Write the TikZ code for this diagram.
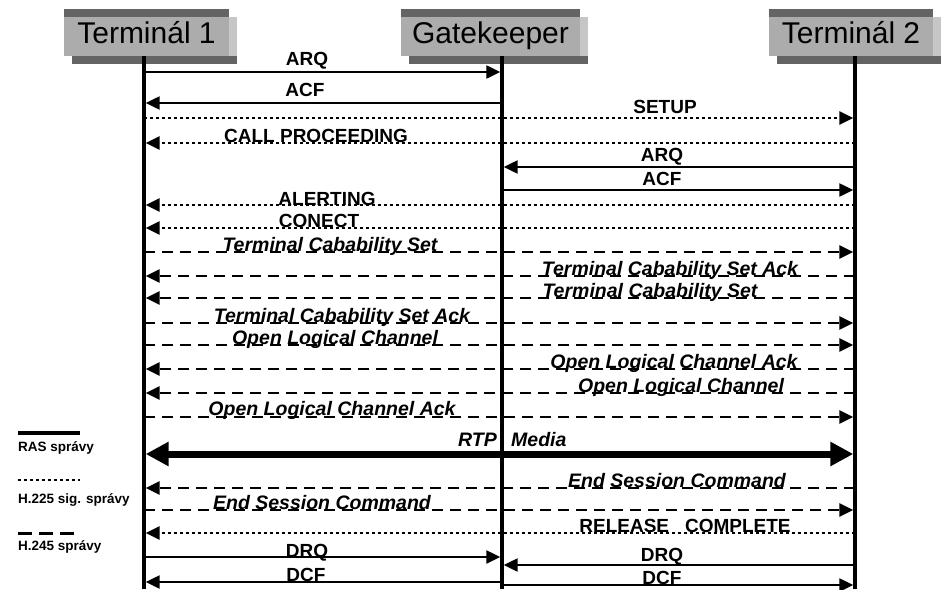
\documentclass[tikz,border=0pt]{standalone}
\usepackage{fontspec}
\setmainfont{Liberation Sans}
\usetikzlibrary{arrows.meta}
\definecolor{hdrmid}{RGB}{172,172,172}
\definecolor{hdrlight}{RGB}{198,198,198}
\definecolor{hdrdark}{RGB}{100,100,100}
\newcommand\hdrbox[4]{%
  \fill[hdrlight] (#2+8,17) rectangle (#3+8,64);
  \fill[hdrmid] (#2,9) rectangle (#3,56);
  \fill[hdrdark] (#2,9) rectangle (#3,17);
  \fill[hdrdark] (#2+8,56) rectangle (#3+8,64);
  \node[hdr] (#1) at ({(#2+#3)/2},43) {#4};}
\newcommand\msg[4]{\draw[#1] (#3 |- 0,#2) -- (#4 |- 0,#2);}
\begin{document}
\begin{tikzpicture}[x=1pt,y=-1pt,
  life/.style={line width=3.5pt},
  ras/.style={line width=2.3pt},
  sig/.style={line width=2.8pt, dash pattern=on 2.8pt off 3.2pt},
  hcf/.style={line width=2.5pt, dash pattern=on 11pt off 7pt},
  tip/.style={-{Triangle[length=14pt,width=13pt]}, shorten >=1.7pt},
  rtp/.style={line width=7pt, {Triangle[length=23pt,width=23pt]}-{Triangle[length=23pt,width=23pt]}, shorten >=1.7pt, shorten <=1.7pt},
  lbl/.style={font=\fontsize{19}{19}\selectfont\bfseries, anchor=base, inner sep=0pt},
  ilbl/.style={font=\fontsize{19.5}{19.5}\selectfont\bfseries\itshape, anchor=base, inner sep=0pt},
  hdr/.style={font=\fontsize{30}{30}\selectfont, anchor=base, inner sep=0pt},
  leg/.style={font=\fontsize{13.5}{13.5}\selectfont\bfseries, anchor=base west, inner sep=0pt}]
\useasboundingbox (0,0) rectangle (944,589);
\fill[white] (0,0) rectangle (944,589);
% headers
\hdrbox{t1}{64}{229}{Terminál 1}
\hdrbox{gk}{401}{580}{Gatekeeper}
\hdrbox{t2}{769}{933}{Terminál 2}
% lifelines
\coordinate (L1) at (144,56);
\coordinate (LG) at (502,56);
\coordinate (L2) at (855,56);
\coordinate (B1) at (144,589);
\coordinate (BG) at (502,589);
\coordinate (B2) at (855,589);
\draw[life] (L1) -- (B1);
\draw[life] (LG) -- (BG);
\draw[life] (L2) -- (B2);
% messages
\msg{ras,tip}{72}{L1}{LG}
\node[lbl] (m1) at (307,65) {ARQ};
\msg{ras,tip}{103}{LG}{L1}
\node[lbl] (m2) at (305,96) {ACF};
\msg{sig,tip}{118}{L1}{L2}
\node[lbl] (m3) at (665,113) {SETUP};
\msg{sig,tip}{143}{L2}{L1}
\node[lbl] (m4) at (316,142) {CALL PROCEEDING};
\msg{ras,tip}{167}{L2}{LG}
\node[lbl] (m5) at (662,161) {ARQ};
\msg{ras,tip}{190}{LG}{L2}
\node[lbl] (m6) at (662,185) {ACF};
\msg{sig,tip}{205}{L2}{L1}
\node[lbl] (m7) at (327,205) {ALERTING};
\msg{sig,tip}{228}{L2}{L1}
\node[lbl] (m8) at (319,227) {CONECT};
\msg{hcf,tip}{252}{L1}{L2}
\node[ilbl] (m9) at (330,251) {Terminal Cabability Set};
\msg{hcf,tip}{276}{L2}{L1}
\node[ilbl] (m10) at (670,275) {Terminal Cabability Set Ack};
\msg{hcf,tip}{298}{L2}{L1}
\node[ilbl] (m11) at (650,297) {Terminal Cabability Set};
\msg{hcf,tip}{323}{L1}{L2}
\node[ilbl] (m12) at (342,322) {Terminal Cabability Set Ack};
\msg{hcf,tip}{345}{L1}{L2}
\node[ilbl] (m13) at (335,344) {Open Logical Channel};
\msg{hcf,tip}{369}{L2}{L1}
\node[ilbl] (m14) at (674,368) {Open Logical Channel Ack};
\msg{hcf,tip}{393}{L2}{L1}
\node[ilbl] (m15) at (681,392) {Open Logical Channel};
\msg{hcf,tip}{417}{L1}{L2}
\node[ilbl] (m16) at (332,415) {Open Logical Channel Ack};
\draw[rtp] (L1 |- 0,454) -- (L2 |- 0,454);
\node[ilbl, anchor=base east] (m17) at (497,446) {RTP};
\node[ilbl, anchor=base west] (m18) at (511,446) {Media};
\msg{hcf,tip}{488}{L2}{L1}
\node[ilbl] (m19) at (677,487) {End Session Command};
\msg{hcf,tip}{510}{L1}{L2}
\node[ilbl] (m20) at (322,509) {End Session Command};
\msg{sig,tip}{533}{L2}{L1}
\node[lbl] (m21) at (685,532) {RELEASE\hspace{16pt}COMPLETE};
\msg{ras,tip}{557}{L1}{LG}
\node[lbl] (m22) at (307,557) {DRQ};
\msg{ras,tip}{565}{L2}{LG}
\node[lbl] (m23) at (662,561) {DRQ};
\msg{ras,tip}{582}{LG}{L1}
\node[lbl] (m24) at (306,581) {DCF};
\msg{ras,tip}{585}{LG}{L2}
\node[lbl] (m25) at (662,584) {DCF};
% legend
\draw[line width=4pt] (18,433) -- (80,433);
\node[leg] (k1) at (18,451) {RAS správy};
\draw[sig] (18,480) -- (80,480);
\node[leg] (k2) at (18,503) {H.225 sig. správy};
\draw[line width=3pt, dash pattern=on 13.5pt off 7.5pt] (18,533) -- (73.5,533);
\node[leg] (k3) at (18,550) {H.245 správy};
\end{tikzpicture}
\end{document}
